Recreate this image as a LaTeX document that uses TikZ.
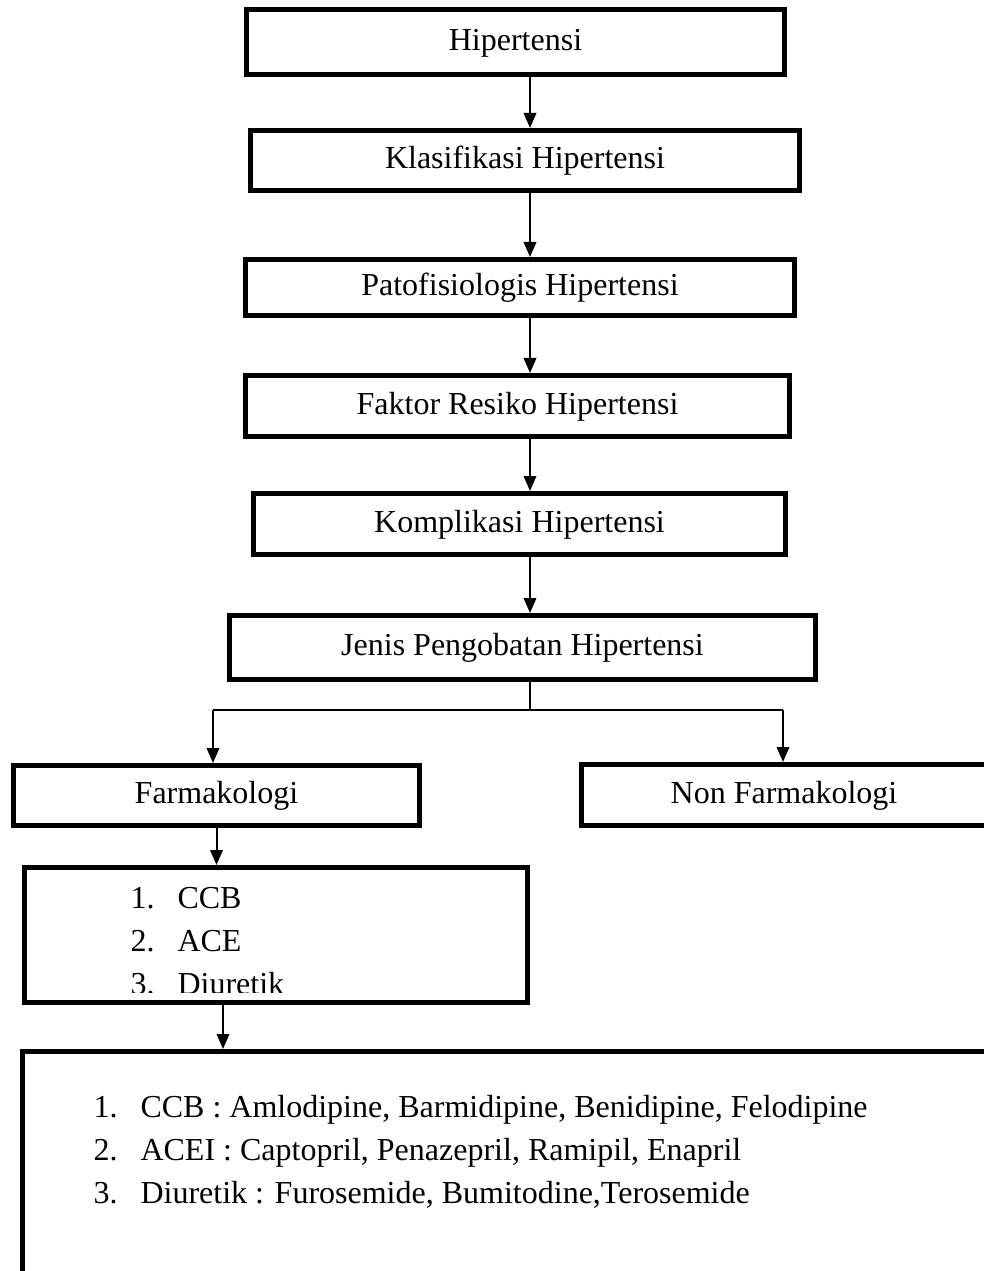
\documentclass[tikz,border=0pt]{standalone}
\usepackage{fontspec}
\setmainfont{Liberation Serif}
\usepackage{tikz}
\usetikzlibrary{arrows.meta}

\tikzset{
  kotak/.style = {draw, line width=2pt, inner sep=0pt, text height=0.66em, text depth=0pt, font=\fontsize{12.8pt}{15pt}\selectfont},
  teks/.style = {inner sep=0pt, anchor=base west, font=\fontsize{12.8pt}{15pt}\selectfont},
  panah/.style = {line width=0.8pt, -{Triangle[length=6pt,width=5pt]}},
  garis/.style = {line width=0.8pt}
}

\begin{document}
\begin{tikzpicture}[x=0.4pt,y=-0.4pt]
\useasboundingbox (0,0) rectangle (984,1271);

\node[kotak, minimum width=215.2pt, minimum height=26pt] (hip) at (515.5,42) {Hipertensi};
\node[kotak, minimum width=219.6pt, minimum height=24pt] (klas) at (525,160.5) {Klasifikasi Hipertensi};
\node[kotak, minimum width=219.6pt, minimum height=22.4pt] (pato) at (520,287.5) {Patofisiologis Hipertensi};
\node[kotak, minimum width=217.6pt, minimum height=24.4pt] (faktor) at (517.5,406) {Faktor Resiko Hipertensi};
\node[kotak, minimum width=212.8pt, minimum height=24.4pt] (kompl) at (519.5,524) {Komplikasi Hipertensi};
\node[kotak, minimum width=234.4pt, minimum height=25.6pt] (jenis) at (522.5,647.5) {Jenis Pengobatan Hipertensi};

\node[kotak, minimum width=162.4pt, minimum height=24pt] (farm) at (216.5,795.5) {Farmakologi};
\node[kotak, minimum width=162.4pt, minimum height=24.4pt] (nonfarm) at (784,795) {Non Farmakologi};

\node[kotak, minimum width=200.8pt, minimum height=54pt] (golongan) at (276,935) {};
\begin{scope}
\clip (30,870) rectangle (525,992);
\node[teks] (g1) at (130,908) {1.};
\node[teks] (g1t) at (177,908) {CCB};
\node[teks] (g2) at (130,951) {2.};
\node[teks] (g2t) at (177,951) {ACE};
\node[teks] (g3) at (130,994) {3.};
\node[teks] (g3t) at (177,994) {Diuretik};
\end{scope}

\node[kotak, minimum width=395pt, minimum height=99.4pt] (obat) at (516.25,1175.75) {};
\node[teks] (o1) at (93,1117) {1.};
\node[teks] (o1t) at (140,1117) {CCB : Amlodipine, Barmidipine, Benidipine, Felodipine};
\node[teks] (o2) at (93,1160) {2.};
\node[teks] (o2t) at (140,1160) {ACEI : Captopril, Penazepril, Ramipil, Enapril};
\node[teks] (o3) at (93,1203) {3.};
\node[teks] (o3t) at (140,1203) {Diuretik : Furosemide, Bumitodine,Terosemide};

\coordinate (spine) at (530,0);
\coordinate (split) at (530,710);
\coordinate (kiri) at (213,710);
\coordinate (kanan) at (783,710);
\coordinate (turun) at (223,0);

\draw[panah] (hip.south -| spine) -- (klas.north -| spine);
\draw[panah] (klas.south -| spine) -- (pato.north -| spine);
\draw[panah] (pato.south -| spine) -- (faktor.north -| spine);
\draw[panah] (faktor.south -| spine) -- (kompl.north -| spine);
\draw[panah] (kompl.south -| spine) -- (jenis.north -| spine);

\draw[garis] (jenis.south -| spine) -- (split);
\draw[garis] (kiri) -- (kanan);
\draw[panah] (kiri) -- (kiri |- farm.north);
\draw[panah] (kanan) -- (kanan |- nonfarm.north);

\draw[panah] (farm.south) -- (farm.south |- golongan.north);
\draw[panah] (golongan.south -| turun) -- (obat.north -| turun);
\end{tikzpicture}
\end{document}
